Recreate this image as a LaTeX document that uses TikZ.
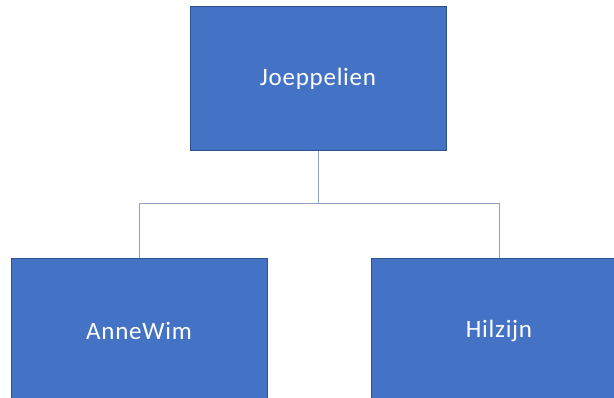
\documentclass[tikz,border=0pt]{standalone}
\usepackage{fontspec}
\setmainfont{Carlito}
\definecolor{boxfill}{HTML}{4472C4}
\definecolor{boxline}{HTML}{2F528F}
\definecolor{conn}{HTML}{8EA3C4}
\begin{document}
\begin{tikzpicture}[x=1pt,y=-1pt,
  orgbox/.style={draw=boxline,line width=0.8pt,fill=boxfill,minimum width=256pt,minimum height=144pt,
    text=white,font=\fontsize{25}{29}\selectfont,inner sep=0pt},
  link/.style={draw=conn,line width=0.9pt}]
\useasboundingbox (0,0) rectangle (614,398);
\clip (0,0) rectangle (614,398);
\node[orgbox] (top) at (318,78.5) {\addfontfeature{LetterSpace=3}Joeppelien};
\node[orgbox,minimum height=145pt] (left) at (139,330.5) {\addfontfeature{LetterSpace=3}AnneWim};
\node[orgbox,minimum height=145pt] (right) at (499,330.5) {\addfontfeature{LetterSpace=3}Hilzijn};
\coordinate (mid) at (318,203);
\draw[link] (top.south) -- (mid);
\draw[link] (mid) -| (left.north);
\draw[link] (mid) -| (right.north);
\end{tikzpicture}
\end{document}
